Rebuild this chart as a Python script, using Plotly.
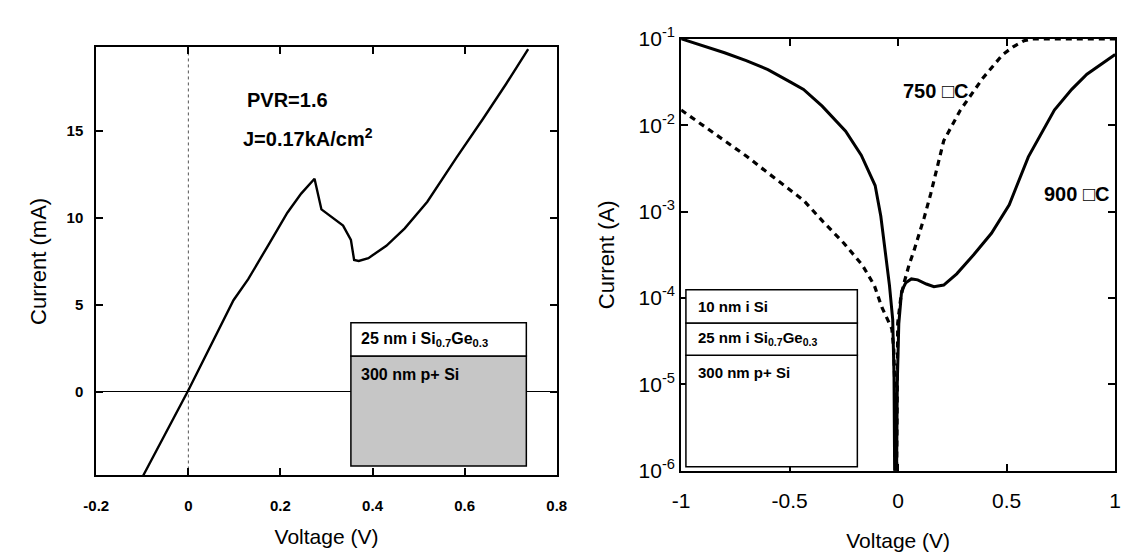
import plotly.graph_objects as go

# ---------------- data: left panel (linear I-V) ----------------
v_left = [-0.098, 0.0, 0.098, 0.130, 0.175, 0.215, 0.245, 0.274, 0.289, 0.315,
          0.336, 0.353, 0.360, 0.370, 0.391, 0.430, 0.470, 0.519, 0.583, 0.640, 0.690, 0.738]
i_left_mA = [-4.8, 0.1, 5.27, 6.48, 8.5, 10.3, 11.4, 12.25, 10.49, 9.95,
             9.56, 8.74, 7.58, 7.53, 7.69, 8.4, 9.4, 10.93, 13.5, 15.7, 17.7, 19.7]

left_xticks = [-0.2, 0, 0.2, 0.4, 0.6, 0.8]
left_xticklabels = ["-0.2", "0", "0.2", "0.4", "0.6", "0.8"]
left_yticks = [0, 5, 10, 15]

# ---------------- data: right panel (log I-V) ----------------
v_900 = [-1.0, -0.9, -0.8, -0.7, -0.6, -0.5, -0.436, -0.35, -0.242, -0.17, -0.106, -0.08,
         -0.061, -0.04, -0.025, -0.019, -0.015, -0.01, -0.004, 0.003, 0.016, 0.035, 0.061,
         0.09, 0.13, 0.165, 0.21, 0.27, 0.35, 0.43, 0.512, 0.60, 0.72, 0.8, 0.87, 0.94, 1.0]
i_900 = [1.0e-1, 8.3e-2, 6.9e-2, 5.6e-2, 4.4e-2, 3.2e-2, 2.6e-2, 1.66e-2, 8.5e-3, 4.5e-3,
         2.0e-3, 8.9e-4, 3.5e-4, 1.4e-4, 5.6e-5, 1.26e-5, 3.2e-7, 1.0e-7, 1.0e-5, 5.0e-5,
         1.2e-4, 1.5e-4, 1.66e-4, 1.62e-4, 1.45e-4, 1.35e-4, 1.41e-4, 1.9e-4, 3.2e-4,
         5.6e-4, 1.2e-3, 4.3e-3, 1.5e-2, 2.6e-2, 3.9e-2, 5.2e-2, 6.6e-2]

v_750 = [-1.0, -0.9, -0.8, -0.7, -0.6, -0.5, -0.436, -0.345, -0.25, -0.165, -0.11, -0.075,
         -0.045, -0.029, -0.02, -0.014, -0.01, -0.006, -0.002, 0.012, 0.029, 0.05, 0.074,
         0.12, 0.15, 0.21, 0.287, 0.39, 0.48, 0.53, 0.58, 0.62, 0.7, 0.8, 0.9, 1.0]
i_750 = [1.5e-2, 1.0e-2, 6.6e-3, 4.4e-3, 2.8e-3, 1.8e-3, 1.35e-3, 7.6e-4, 4.3e-4, 2.4e-4,
         1.4e-4, 7.8e-5, 5.2e-5, 4.4e-5, 2.5e-5, 6.3e-6, 1.0e-7, 1.0e-5, 5.1e-5, 1.0e-4,
         1.55e-4, 2.4e-4, 3.6e-4, 8.5e-4, 1.6e-3, 6.6e-3, 1.5e-2, 3.5e-2, 6.5e-2, 8.1e-2,
         9.5e-2, 1.0e-1, 1.0e-1, 1.0e-1, 1.0e-1, 1.0e-1]

right_xticks = [-1, -0.5, 0, 0.5, 1]
right_xticklabels = ["-1", "-0.5", "0", "0.5", "1"]
right_yticks = [1e-6, 1e-5, 1e-4, 1e-3, 1e-2, 1e-1]
right_yticklabels = ["10<sup>-6</sup>", "10<sup>-5</sup>", "10<sup>-4</sup>",
                     "10<sup>-3</sup>", "10<sup>-2</sup>", "10<sup>-1</sup>"]

FONT = "Liberation Sans, Arial, sans-serif"
W, H = 1132, 560

def xd(p0, p1):
    return [p0 / W, p1 / W]

def yd(top, bottom):
    return [1 - bottom / H, 1 - top / H]

fig = go.Figure()

fig.add_trace(go.Scatter(x=v_left, y=i_left_mA, mode="lines",
                         line=dict(color="black", width=2.4, shape="linear"),
                         xaxis="x", yaxis="y", showlegend=False))
fig.add_trace(go.Scatter(x=v_750, y=i_750, mode="lines",
                         line=dict(color="black", width=3.2, dash="6px,5px"),
                         xaxis="x2", yaxis="y2", showlegend=False))
fig.add_trace(go.Scatter(x=v_900, y=i_900, mode="lines",
                         line=dict(color="black", width=3.0),
                         xaxis="x2", yaxis="y2", showlegend=False))

axis_common = dict(showline=True, linecolor="black", linewidth=2, mirror="ticks",
                   ticks="inside", tickcolor="black", tickwidth=1.5, ticklen=7,
                   showgrid=False)

fig.update_layout(
    width=W, height=H, margin=dict(l=0, r=0, t=0, b=0),
    paper_bgcolor="white", plot_bgcolor="white",
    font=dict(family=FONT, color="black"),
    xaxis=dict(domain=xd(85, 555), range=[-0.2, 0.8], tickvals=left_xticks,
               ticktext=left_xticklabels, zeroline=False,
               tickfont=dict(size=15, weight="bold"), ticklabelstandoff=16,
               title=dict(text="Voltage (V)", font=dict(size=21), standoff=16),
               **axis_common),
    yaxis=dict(domain=yd(35, 483), range=[-4.8, 19.8], tickvals=left_yticks,
               zeroline=True, zerolinecolor="black", zerolinewidth=1,
               tickfont=dict(size=15, weight="bold"), ticklabelstandoff=8,
               title=dict(text="Current (mA)", font=dict(size=22), standoff=14),
               **axis_common),
    xaxis2=dict(domain=xd(682, 1125), range=[-1, 1], tickvals=right_xticks,
                ticktext=right_xticklabels, zeroline=False, anchor="y2",
                tickfont=dict(size=21), ticklabelstandoff=10,
                title=dict(text="Voltage (V)", font=dict(size=21), standoff=22),
                **axis_common),
    yaxis2=dict(domain=yd(26, 478), type="log", range=[-6, -1], tickvals=right_yticks,
                ticktext=right_yticklabels, zeroline=False, anchor="x2",
                tickfont=dict(size=21),
                title=dict(text="Current (A)", font=dict(size=22), standoff=18),
                **axis_common),
)

# dotted vertical line at V = 0 in left panel
fig.add_shape(type="line", xref="x", yref="y domain", x0=0, x1=0, y0=0, y1=1,
              line=dict(color="#555555", width=1, dash="dot"), layer="below")

# ---------------- left inset (layer stack) ----------------
fig.add_shape(type="rect", xref="x domain", yref="y domain",
              x0=0.553, x1=0.934, y0=0.022, y1=0.279,
              fillcolor="#c6c6c6", line=dict(color="black", width=1.5))
fig.add_shape(type="rect", xref="x domain", yref="y domain",
              x0=0.553, x1=0.934, y0=0.279, y1=0.357,
              fillcolor="white", line=dict(color="black", width=1.5))
fig.add_annotation(xref="x domain", yref="y domain", x=0.57, y=0.318,
                   xanchor="left", yanchor="middle", showarrow=False,
                   text="<b>25 nm i Si<sub>0.7</sub>Ge<sub>0.3</sub></b>",
                   font=dict(size=16, family=FONT))
fig.add_annotation(xref="x domain", yref="y domain", x=0.57, y=0.235,
                   xanchor="left", yanchor="middle", showarrow=False,
                   text="<b>300 nm p+ Si</b>", font=dict(size=16, family=FONT))

# ---------------- right inset (layer stack) ----------------
fig.add_shape(type="rect", xref="x2 domain", yref="y2 domain",
              x0=0.011, x1=0.406, y0=0.009, y1=0.267,
              fillcolor="white", line=dict(color="black", width=1.5))
fig.add_shape(type="rect", xref="x2 domain", yref="y2 domain",
              x0=0.011, x1=0.406, y0=0.267, y1=0.342,
              fillcolor="white", line=dict(color="black", width=1.5))
fig.add_shape(type="rect", xref="x2 domain", yref="y2 domain",
              x0=0.011, x1=0.406, y0=0.342, y1=0.419,
              fillcolor="white", line=dict(color="black", width=1.5))
fig.add_annotation(xref="x2 domain", yref="y2 domain", x=0.035, y=0.381,
                   xanchor="left", yanchor="middle", showarrow=False,
                   text="<b>10 nm i Si</b>", font=dict(size=15, family=FONT))
fig.add_annotation(xref="x2 domain", yref="y2 domain", x=0.035, y=0.305,
                   xanchor="left", yanchor="middle", showarrow=False,
                   text="<b>25 nm i Si<sub>0.7</sub>Ge<sub>0.3</sub></b>",
                   font=dict(size=15, family=FONT))
fig.add_annotation(xref="x2 domain", yref="y2 domain", x=0.035, y=0.228,
                   xanchor="left", yanchor="middle", showarrow=False,
                   text="<b>300 nm p+ Si</b>", font=dict(size=15, family=FONT))

# ---------------- text labels ----------------
fig.add_annotation(xref="x domain", yref="y domain", x=0.323, y=0.877,
                   xanchor="left", yanchor="middle", showarrow=False,
                   text="<b>PVR=1.6</b>", font=dict(size=20, family=FONT))
fig.add_annotation(xref="x domain", yref="y domain", x=0.315, y=0.79,
                   xanchor="left", yanchor="middle", showarrow=False,
                   text="<b>J=0.17kA/cm<sup>2</sup></b>", font=dict(size=20, family=FONT))
fig.add_annotation(xref="x2 domain", yref="y2 domain", x=0.587, y=0.879,
                   xanchor="center", yanchor="middle", showarrow=False,
                   text="<b>750 \u25a1C</b>", font=dict(size=20, family=FONT))
fig.add_annotation(xref="x2 domain", yref="y2 domain", x=0.99, y=0.64,
                   xanchor="right", yanchor="middle", showarrow=False,
                   text="<b>900 \u25a1C</b>", font=dict(size=20, family=FONT))

fig.write_html("out.html", config={"displayModeBar": False},
               post_script="document.body.style.margin='0';document.body.style.padding='0';")
